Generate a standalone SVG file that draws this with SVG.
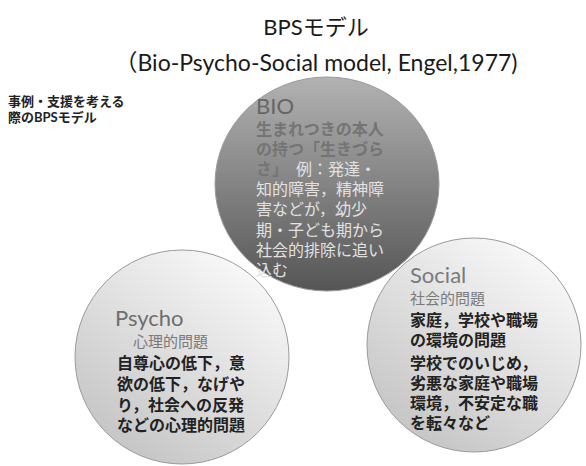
<svg xmlns="http://www.w3.org/2000/svg" width="586" height="466" viewBox="0 0 586 466">
<defs>
<linearGradient id="gBio" x1="0" y1="0" x2="0" y2="1">
<stop offset="0" stop-color="#b2b2b2"/>
<stop offset="1" stop-color="#555555"/>
</linearGradient>
<linearGradient id="gLight" x1="0.8" y1="0.1" x2="0.2" y2="0.95">
<stop offset="0" stop-color="#f7f7f7"/>
<stop offset="1" stop-color="#c4c4c4"/>
</linearGradient>
</defs>
<style>
text{font-family:Lato,"Noto Sans CJK JP",sans-serif}
.circ{stroke:#9a9a9a;stroke-width:1}
.head{font-size:22px}
.sub{font-size:15px;fill:#7a7a7a}
.body{font-size:16px;fill:#222222;font-weight:bold}
.bio{font-size:16px;fill:#e2e2e2}
.dk{fill:#747474;font-weight:bold}
</style>
<rect width="586" height="466" fill="#ffffff"/>
<g id="title">
<text x="316" y="35" text-anchor="middle" font-size="22" fill="#1a1a1a">BPSモデル</text>
<text x="316" y="71" text-anchor="middle" font-size="23" fill="#1a1a1a">（Bio-Psycho-Social model, Engel,1977)</text>
</g>
<g id="note">
<text x="8" y="106" font-size="13" font-weight="bold" fill="#222">事例・支援を考える</text>
<text x="8" y="122" font-size="13" font-weight="bold" fill="#222">際のBPSモデル</text>
</g>
<g id="connectors"></g>
<g id="psycho">
<circle class="circ" cx="182" cy="357" r="107" fill="url(#gLight)"/>
<text x="115" y="326" class="head" fill="#6e6e6e">Psycho</text>
<text x="133" y="347" class="sub">心理的問題</text>
<text class="body"><tspan x="117" y="369">自尊心の低下，意</tspan><tspan x="117" y="390">欲の低下，なげや</tspan><tspan x="117" y="411">り，社会への反発</tspan><tspan x="117" y="431">などの心理的問題</tspan></text>
</g>
<g id="social">
<circle class="circ" cx="474" cy="345" r="107" fill="url(#gLight)"/>
<text x="410" y="283" class="head" fill="#7a7a7a">Social</text>
<text x="410" y="304" class="sub">社会的問題</text>
<text class="body"><tspan x="410" y="326">家庭，学校や職場</tspan><tspan x="410" y="346">の環境の問題</tspan><tspan x="410" y="369">学校でのいじめ，</tspan><tspan x="410" y="389">劣悪な家庭や職場</tspan><tspan x="410" y="409">環境，不安定な職</tspan><tspan x="410" y="429">を転々など</tspan></text>
</g>
<g id="bio">
<ellipse class="circ" cx="327" cy="184" rx="112" ry="107" fill="url(#gBio)"/>
<text x="256" y="114" class="head" fill="#666666">BIO</text>
<text class="bio"><tspan x="256" y="135" class="dk">生まれつきの本人</tspan><tspan x="256" y="155" class="dk">の持つ「生きづら</tspan><tspan x="256" y="175" class="dk">さ」</tspan><tspan>　例：発達・</tspan><tspan x="256" y="195">知的障害，精神障</tspan><tspan x="256" y="215">害などが，幼少</tspan><tspan x="256" y="236">期・子ども期から</tspan><tspan x="256" y="256">社会的排除に追い</tspan><tspan x="256" y="276">込む</tspan></text>
</g>
</svg>
